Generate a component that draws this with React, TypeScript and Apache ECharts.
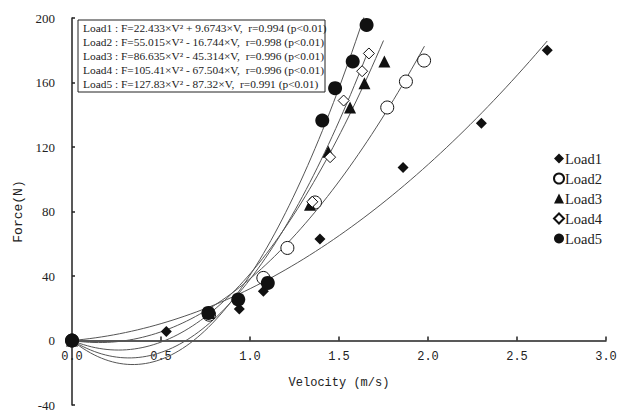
import React, { useEffect, useRef } from "react";
import * as echarts from "echarts";

const seriesNames = ["Load1", "Load2", "Load3", "Load4", "Load5"];

const load1: number[][] = [[0, 0], [0.53, 5.6], [0.94, 19.5], [1.075, 30.5], [1.393, 63], [1.86, 107.3], [2.3, 134.8], [2.67, 180]];
const load2: number[][] = [[0, 0], [0.77, 16], [1.075, 38.8], [1.21, 57.4], [1.365, 85.6], [1.771, 144.5], [1.876, 160.6], [1.978, 173.6]];
const load3: number[][] = [[0, 0], [0.77, 17], [1.337, 84.2], [1.44, 117], [1.562, 144.5], [1.643, 159.5], [1.755, 173]];
const load4: number[][] = [[0, 0], [0.77, 17.5], [1.35, 86], [1.45, 113.7], [1.526, 148.8], [1.63, 167], [1.668, 178]];
const load5: number[][] = [[0, 0], [0.766, 17.1], [0.934, 25.4], [1.1, 35.7], [1.406, 136.4], [1.478, 156.5], [1.577, 173], [1.655, 195.7]];

// fitted equations F = a*V^2 + b*V, with the plotted V range end
const fitA = [22.433, 55.015, 86.635, 105.41, 127.83];
const fitB = [9.6743, -16.744, -45.314, -67.504, -87.32];
const fitEnd = [2.67, 1.98, 1.75, 1.67, 1.655];

const equationLines = [
  "Load1 : F=22.433×V² + 9.6743×V,  r=0.994 (p<0.01)",
  "Load2 : F=55.015×V² - 16.744×V,  r=0.998 (p<0.01)",
  "Load3 : F=86.635×V² - 45.314×V,  r=0.996 (p<0.01)",
  "Load4 : F=105.41×V² - 67.504×V,  r=0.996 (p<0.01)",
  "Load5 : F=127.83×V² - 87.32×V,  r=0.991 (p<0.01)",
];

const yTicks = [-40, 0, 40, 80, 120, 160, 200];
const xTicks = [0, 0.5, 1.0, 1.5, 2.0, 2.5, 3.0];

const allData = [load1, load2, load3, load4, load5];
const symbols = ["diamond", "circle", "triangle", "diamond", "circle"];
const symbolSizes = [11, 13, 12, 11, 14];
const filled = [true, false, true, false, true];

function curve(i: number): number[][] {
  const pts: number[][] = [];
  const n = 80;
  for (let k = 0; k <= n; k++) {
    const v = (fitEnd[i] * k) / n;
    pts.push([v, fitA[i] * v * v + fitB[i] * v]);
  }
  return pts;
}

export default function App() {
  const ref = useRef<HTMLDivElement>(null);
  useEffect(() => {
    if (!ref.current) return;
    const chart = echarts.init(ref.current, null, { renderer: "svg" });
    const curveSeries = fitA.map((_, i) => ({
      type: "line",
      name: "fit" + (i + 1),
      data: curve(i),
      showSymbol: false,
      symbol: "none",
      lineStyle: { color: "#555", width: 1 },
      z: 2,
      silent: true,
    }));
    const scatterSeries = seriesNames.map((name, i) => ({
      type: "scatter",
      name,
      data: allData[i],
      symbol: symbols[i],
      symbolSize: symbolSizes[i],
      itemStyle: filled[i]
        ? { color: "#111", borderColor: "#111", borderWidth: 0, opacity: 1 }
        : { color: "#ffffff", borderColor: "#111", borderWidth: 1, opacity: 1 },
      z: 3,
    }));
    chart.setOption({
      animation: false,
      backgroundColor: "#fff",
      grid: { left: 72, right: 20, top: 18, bottom: 7, containLabel: false, outerBoundsMode: "none" },
      xAxis: {
        type: "value",
        min: 0,
        max: 3,
        interval: 0.5,
        name: "Velocity (m/s)",
        nameLocation: "middle",
        nameGap: -28,
        nameTextStyle: { fontFamily: "Liberation Mono", fontSize: 12, color: "#222", verticalAlign: "top" },
        axisLine: { onZero: true, lineStyle: { color: "#222", width: 1.5 } },
        axisTick: { inside: true, length: 4, lineStyle: { color: "#222", width: 1.5 } },
        axisLabel: {
          color: "#222",
          fontFamily: "Liberation Mono",
          fontSize: 12,
          margin: -54,
          verticalAlign: "top",
          formatter: (v: number) => (xTicks.includes(v) ? v.toFixed(1) : ""),
        },
        splitLine: { show: false },
      },
      yAxis: {
        type: "value",
        min: -40,
        max: 200,
        interval: 40,
        name: "Force(N)",
        nameLocation: "middle",
        nameGap: 40,
        nameRotate: 90,
        nameTextStyle: { fontFamily: "Liberation Mono", fontSize: 13, color: "#222" },
        axisLine: { show: true, lineStyle: { color: "#222", width: 1.5 } },
        axisTick: { show: true, inside: true, length: 3, lineStyle: { color: "#222", width: 1.5 } },
        axisLabel: {
          color: "#222",
          fontFamily: "Liberation Serif",
          fontSize: 13,
          margin: 17,
          formatter: (v: number) => (yTicks.includes(v) ? String(v) : ""),
        },
        splitLine: { show: false },
      },
      legend: {
        data: seriesNames,
        orient: "vertical",
        left: 548,
        top: 146,
        itemWidth: 10,
        itemHeight: 10,
        itemGap: 5,
        textStyle: { fontFamily: "Liberation Serif", fontSize: 14.5, color: "#222", padding: [0, 0, 0, -4] },
      },
      graphic: [
        {
          type: "rect",
          shape: { x: 78, y: 20, width: 247, height: 72 },
          style: { fill: "#fff", stroke: "#222", lineWidth: 1 },
          z: 10,
        },
        ...equationLines.map((t, i) => ({
          type: "text",
          x: 83,
          y: 22.5 + i * 13.9,
          style: {
            text: t,
            fontFamily: "Liberation Serif",
            fontSize: 11.4,
            fill: "#222",
          },
          z: 11,
        })),
      ],
      series: [...curveSeries, ...scatterSeries],
    });
    return () => chart.dispose();
  }, []);
  return <div ref={ref} style={{ position: "absolute", left: 0, top: 0, width: 626, height: 412 }} />;
}
